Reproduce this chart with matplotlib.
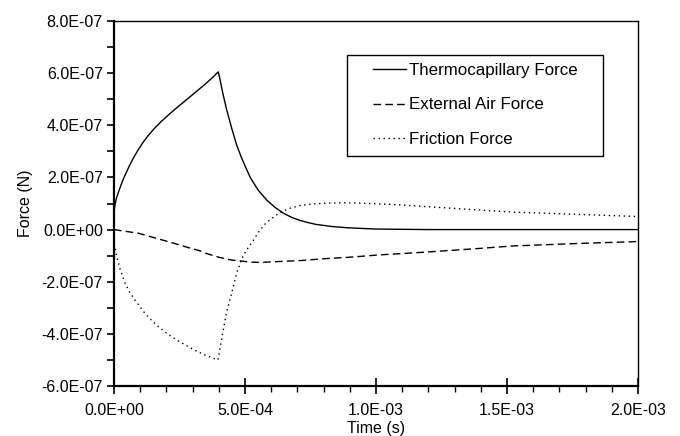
import matplotlib
matplotlib.use('Agg')
import matplotlib.pyplot as plt
from matplotlib.patches import Rectangle
from matplotlib.ticker import MultipleLocator, FuncFormatter

plt.rcParams['font.family'] = ['Liberation Sans', 'DejaVu Sans']

# time in units of 1E-4 s, force in units of 1E-7 N
t_thermo = [0, 0.03, 0.08, 0.16, 0.25, 0.35, 0.45, 0.6, 0.75, 0.93, 1.1, 1.3, 1.56, 1.8,
            2.05, 2.3, 2.55, 2.84, 3.15, 3.47, 3.75, 3.98, 4.05, 4.15, 4.3, 4.49, 4.68,
            4.85, 5.0, 5.2, 5.5, 5.83, 6.15, 6.46, 6.8, 7.1, 7.4, 7.7, 8.3, 8.9, 10.0,
            12.0, 20.0]
f_thermo = [0.65, 0.9, 1.15, 1.4, 1.66, 1.92, 2.15, 2.47, 2.76, 3.07, 3.33, 3.6, 3.9, 4.14,
            4.37, 4.59, 4.8, 5.04, 5.3, 5.57, 5.82, 6.05, 5.75, 5.25, 4.6, 3.9, 3.25,
            2.8, 2.45, 2.0, 1.52, 1.13, 0.85, 0.63, 0.46, 0.35, 0.27, 0.2, 0.12, 0.07,
            0.02, 0.0, 0.0]

t_air = [0, 0.93, 2.2, 2.8, 3.3, 3.47, 4.0, 4.49, 4.87, 5.25, 5.57, 6.2, 7.1, 8.0, 9.0,
         10.15, 11.5, 12.7, 14.0, 15.2, 16.5, 17.8, 20.0]
f_air = [0, -0.14, -0.5, -0.68, -0.82, -0.9, -1.06, -1.17, -1.21, -1.25, -1.26, -1.23,
         -1.19, -1.12, -1.06, -0.97, -0.89, -0.81, -0.72, -0.63, -0.58, -0.53, -0.46]

t_fric = [0, 0.04, 0.12, 0.23, 0.42, 0.6, 0.8, 1.0, 1.18, 1.45, 1.69, 1.95, 2.2, 2.5, 2.84,
          3.15, 3.47, 3.75, 3.97, 4.11, 4.3, 4.49, 4.68, 4.93, 5.15, 5.33, 5.55, 5.8,
          6.08, 6.34, 6.72, 7.1, 7.48, 8.0, 8.75, 9.5, 10.7, 12.7, 15.2, 17.8, 20.0]
f_fric = [-0.55, -0.66, -1.1, -1.5, -2.05, -2.4, -2.7, -2.97, -3.21, -3.5, -3.72, -3.93,
          -4.11, -4.3, -4.49, -4.66, -4.81, -4.92, -5.0, -4.2, -3.15, -2.45, -1.68, -1.0,
          -0.65, -0.4, -0.05, 0.25, 0.47, 0.66, 0.82, 0.92, 0.97, 1.01, 1.03, 1.01, 0.96,
          0.83, 0.67, 0.58, 0.5]

def sec(v):
    return [x * 1e-4 for x in v]

def newton(v):
    return [y * 1e-7 for y in v]

fig = plt.figure(figsize=(6.8, 4.36), dpi=100)
ax = fig.add_axes([0.1676, 0.1147, 0.7706, 0.8371])

ax.plot(sec(t_thermo), newton(f_thermo), color='black', lw=1.0, label='Thermocapillary Force')
ax.plot(sec(t_air), newton(f_air), color='black', lw=1.0, dashes=(5.5, 3), label='External Air Force')
ax.plot(sec(t_fric), newton(f_fric), color='black', lw=1.0, dashes=(1, 2.6), label='Friction Force')

ax.set_xlim(0, 2e-3)
ax.set_ylim(-6e-7, 8e-7)
ax.xaxis.set_major_locator(MultipleLocator(5e-4))
ax.xaxis.set_minor_locator(MultipleLocator(1e-4))
ax.yaxis.set_major_locator(MultipleLocator(2e-7))
ax.yaxis.set_minor_locator(MultipleLocator(1e-7))
fmt = FuncFormatter(lambda v, p: '%.1E' % (0.0 if abs(v) < 1e-12 else v))
ax.xaxis.set_major_formatter(fmt)
ax.yaxis.set_major_formatter(fmt)

ax.tick_params(axis='y', which='both', direction='out', length=5, width=1.2, labelsize=11.5, pad=3)
ax.tick_params(axis='x', which='major', direction='inout', length=11, width=1.2, labelsize=11.5, pad=7)
ax.tick_params(axis='x', which='minor', direction='out', length=4, width=1.0)

for s in ['left', 'bottom']:
    ax.spines[s].set_linewidth(1.6)
for s in ['top', 'right']:
    ax.spines[s].set_linewidth(1.0)

ax.set_xlabel('Time (s)', fontsize=11.5, labelpad=2)
ax.set_ylabel('Force (N)', fontsize=11.5, labelpad=6)

# legend frame drawn separately so the inner padding can be set freely
ax.add_patch(Rectangle((0.445, 0.63), 0.488, 0.277, transform=ax.transAxes,
                       fill=False, edgecolor='black', lw=1.0, zorder=5))
ax.legend(loc='upper left', bbox_to_anchor=(0.494, 0.885), frameon=False,
          fontsize=12.2, handlelength=1.95, handletextpad=0.18, labelspacing=1.15,
          borderpad=0, borderaxespad=0)

fig.savefig('out.png', dpi=100)
